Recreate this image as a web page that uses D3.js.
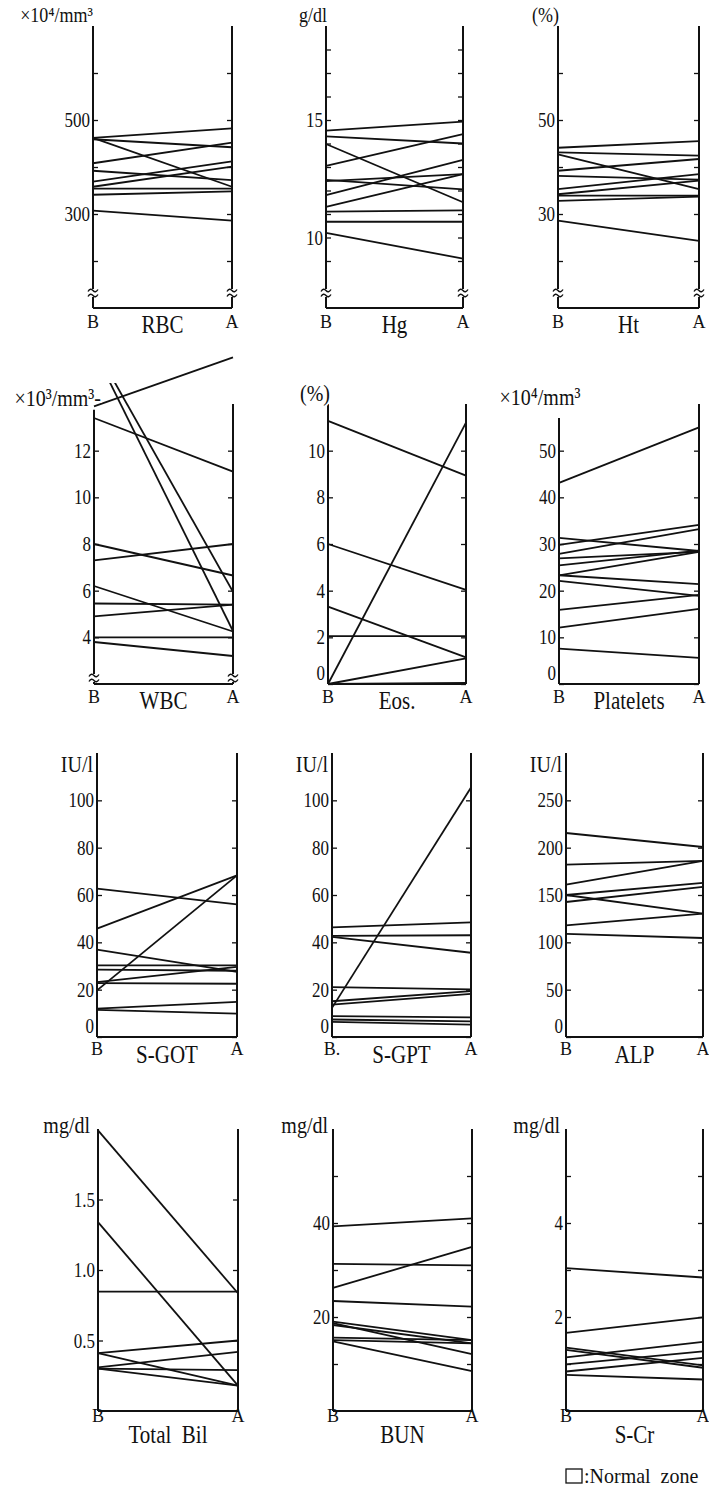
<!DOCTYPE html>
<html>
<head>
<meta charset="utf-8">
<script src="https://cdn.jsdelivr.net/npm/d3@7"></script>
<style>
  body { margin: 0; background: #fff; }
  text { font-family: "Liberation Serif", "DejaVu Serif", serif; fill: #111; }
</style>
</head>
<body>
<svg id="chart" width="709" height="1487"></svg>
<script>
// B = before, A = after, one entry per patient line
var rbcB = [462, 462, 459, 408, 392, 369, 358, 354, 341, 307];
var rbcA = [482, 358, 442, 452, 372, 412, 401, 354, 348, 286];
var hgB = [14.55, 14.3, 13.98, 13.05, 12.45, 12.4, 11.8, 11.3, 11.1, 10.67, 10.2];
var hgA = [14.93, 14.0, 11.5, 14.4, 12.05, 12.7, 13.3, 12.7, 11.15, 10.67, 9.1];
var htB = [44.1, 43.1, 42.7, 39.2, 38.1, 35.3, 34.2, 33.9, 32.8, 28.6];
var htA = [45.5, 42.4, 35.3, 41.7, 37.3, 38.5, 37.1, 33.9, 33.7, 24.3];

var wbcB = [13.4, 8.0, 7.3, 6.2, 5.45, 4.9, 4.0, 3.8, 16.3, 16.5, 13.9];
var wbcA = [11.1, 6.65, 8.0, 4.25, 5.4, 5.4, 4.0, 3.2, 4.27, 5.95, 16.0];
var eosB = [11.28, 6.0, 3.32, 2.05, 0, 0, 0];
var eosA = [8.93, 4.03, 1.14, 2.05, 1.1, 11.2, 0.05];
var pltB = [43.1, 31.3, 29.8, 27.9, 26.9, 25.4, 23.3, 23.3, 22.1, 15.9, 12.1, 7.6];
var pltA = [55.0, 28.5, 34.1, 33.2, 28.3, 28.6, 28.3, 21.4, 18.9, 19.1, 16.1, 5.6];

var gotB = [62.7, 45.8, 19.7, 36.9, 30.3, 28.5, 23.2, 22.8, 12.0, 11.5];
var gotA = [56.0, 68.3, 68.3, 27.5, 30.3, 28.0, 29.6, 22.5, 14.8, 9.9];
var gptB = [12.3, 46.3, 42.7, 42.3, 21.1, 15.1, 13.7, 8.8, 7.4, 6.4];
var gptA = [105.4, 48.4, 43.0, 35.6, 20.1, 19.4, 18.2, 8.3, 6.6, 5.2];
var alpB = [215.5, 182, 161, 150, 150, 142.6, 118, 109];
var alpA = [200.7, 186, 186, 162.7, 130.3, 158.5, 130.3, 104.6];

var bilB = [1.99, 1.34, 0.847, 0.41, 0.41, 0.31, 0.30, 0.30];
var bilA = [0.835, 0.18, 0.847, 0.5, 0.18, 0.42, 0.29, 0.18];
var bunB = [39.3, 31.3, 26.2, 23.4, 19.0, 18.7, 18.3, 15.6, 15.1, 14.8];
var bunA = [41.0, 31.0, 34.9, 22.2, 15.1, 12.1, 14.4, 15.1, 14.4, 8.5];
var crB = [3.04, 1.66, 1.35, 1.30, 1.14, 0.99, 0.84, 0.77];
var crA = [2.84, 1.99, 0.97, 0.92, 1.47, 1.27, 1.13, 0.67];

// axis ticks and which of them carry a label
var rbcTicks = [200, 300, 400, 500, 600], rbcLabels = [300, 500];
var hgTicks = [9, 10, 11, 12, 13, 14, 15, 16, 17, 18], hgLabels = [10, 15];
var htTicks = [20, 30, 40, 50, 60], htLabels = [30, 50];
var wbcTicks = [4, 6, 8, 10, 12];
var eosTicks = [0, 2, 4, 6, 8, 10];
var pltTicks = [0, 10, 20, 30, 40, 50];
var gotTicks = [0, 20, 40, 60, 80, 100];
var alpTicks = [0, 50, 100, 150, 200, 250];
var bilTicks = [0.5, 1.0, 1.5];
var bunTicks = [10, 20, 30, 40, 50], bunLabels = [20, 40];
var crTicks = [1, 2, 3, 4, 5], crLabels = [2, 4];

var panels = [
  {name: "RBC", unit: "×10⁴/mm³", b: rbcB, a: rbcA, domain: [100, 700], ticks: rbcTicks, labels: rbcLabels, brk: true},
  {name: "Hg", unit: "g/dl", b: hgB, a: hgA, domain: [7, 19], ticks: hgTicks, labels: hgLabels, brk: true},
  {name: "Ht", unit: "(%)", b: htB, a: htA, domain: [10, 70], ticks: htTicks, labels: htLabels, brk: true},
  {name: "WBC", unit: "×10³/mm³-", b: wbcB, a: wbcA, domain: [2, 14], ticks: wbcTicks, labels: wbcTicks, brk: true, clipTop: 14.9, topL: 13.75},
  {name: "Eos.", unit: "(%)", b: eosB, a: eosA, domain: [0, 12], ticks: eosTicks, labels: eosTicks},
  {name: "Platelets", unit: "×10⁴/mm³", b: pltB, a: pltA, domain: [0, 60], ticks: pltTicks, labels: pltTicks, topL: 57},
  {name: "S-GOT", unit: "IU/l", b: gotB, a: gotA, domain: [0, 120], ticks: gotTicks, labels: gotTicks},
  {name: "S-GPT", unit: "IU/l", b: gptB, a: gptA, domain: [0, 120], ticks: gotTicks, labels: gotTicks, bName: "B."},
  {name: "ALP", unit: "IU/l", b: alpB, a: alpA, domain: [0, 300], ticks: alpTicks, labels: alpTicks},
  {name: "Total  Bil", unit: "mg/dl", b: bilB, a: bilA, domain: [0, 2], ticks: bilTicks, labels: bilTicks, fmt: d3.format(".1f")},
  {name: "BUN", unit: "mg/dl", b: bunB, a: bunA, domain: [0, 60], ticks: bunTicks, labels: bunLabels},
  {name: "S-Cr", unit: "mg/dl", b: crB, a: crA, domain: [0, 6], ticks: crTicks, labels: crLabels}
];

// layout of the 4 x 3 grid
var rows = [
  {top: 26, bottom: 308, xL: [93, 326, 558], xR: [232, 463, 699], offB: 20, offName: 25, brkY: 15},
  {top: 404, bottom: 684, xL: [94, 328, 559], xR: [233, 466, 699], offB: 19, offName: 25, brkY: 6},
  {top: 753, bottom: 1037, xL: [97, 332, 566], xR: [237, 471, 703], offB: 18, offName: 26},
  {top: 1129, bottom: 1411, xL: [98, 333, 566], xR: [238, 472, 703], offB: 11, offName: 32}
];
// unit label placement per panel: [dx from left axis, dy from row top, anchor]
var unitPos = [
  [0, -4, "end"], [1, -4, "end"], [1, -4, "end"],
  [7, 2, "end"], [2, -3, "end"], [-19, 1, "middle"],
  [-4, 19, "end"], [-4, 19, "end"], [-4, 19, "end"],
  [-8, 4, "end"], [-5, 4, "end"], [-6, 4, "end"]
];

var svg = d3.select("#chart");
var ink = "#111";

function label(g, x, y, str, size, anchor, sy) {
  return g.append("text")
    .attr("transform", "translate(" + x + "," + y + ") scale(1," + (sy || 1.2) + ")")
    .attr("text-anchor", anchor || "middle")
    .attr("font-size", size)
    .text(str);
}

function breakMark(g, x, y) {
  g.append("rect").attr("x", x - 3).attr("y", y - 4).attr("width", 6).attr("height", 8).attr("fill", "#fff");
  [-2.5, 2.5].forEach(function(o) {
    g.append("path")
      .attr("d", "M" + (x - 5) + "," + (y + o + 1) + " q2.5,-4 5,-1 t5,-1")
      .attr("fill", "none").attr("stroke", ink).attr("stroke-width", 1.4);
  });
}

panels.forEach(function(p, i) {
  var row = rows[Math.floor(i / 3)], col = i % 3;
  var xL = row.xL[col], xR = row.xR[col];
  var g = svg.append("g");

  var y = d3.scaleLinear().domain(p.domain).range([row.bottom, row.top]);
  var x = d3.scalePoint().domain(["B", "A"]).range([xL, xR]);
  var fmt = p.fmt || d3.format("d");

  // clip for lines that start above the printed axis
  var clipId = "clip" + i;
  if (p.clipTop != null) {
    svg.append("clipPath").attr("id", clipId).append("rect")
      .attr("x", xL).attr("y", y(p.clipTop))
      .attr("width", xR - xL).attr("height", row.bottom - y(p.clipTop));
  }

  g.selectAll("line.pt")
    .data(d3.zip(p.b, p.a))
    .enter().append("line")
    .attr("class", "pt")
    .attr("x1", x("B")).attr("y1", function(d) { return y(d[0]); })
    .attr("x2", x("A")).attr("y2", function(d) { return y(d[1]); })
    .attr("stroke", ink).attr("stroke-width", 1.8)
    .attr("clip-path", function(d) { return (p.clipTop != null && d[0] > p.domain[1]) ? "url(#" + clipId + ")" : null; });

  // ticks: inward marks on both axes, labels on the left
  var left = d3.axisLeft(y).tickValues(p.ticks).tickSizeInner(-5).tickSizeOuter(0).tickPadding(3)
    .tickFormat(function(v) { return p.labels.indexOf(v) >= 0 ? fmt(v) : ""; });
  var gl = g.append("g").attr("transform", "translate(" + xL + ",0)").call(left);
  gl.select(".domain").remove();
  gl.selectAll("line").attr("stroke", ink).attr("stroke-width", 1.3);
  gl.selectAll("text")
    .attr("font-family", "Liberation Serif").attr("font-size", 17).attr("fill", ink)
    .attr("y", function(v) { return v === p.domain[0] ? -9 : 0; })
    .attr("transform", "scale(1,1.2)");

  var right = d3.axisRight(y).tickValues(p.ticks).tickSizeInner(-5).tickSizeOuter(0).tickFormat("");
  var gr = g.append("g").attr("transform", "translate(" + xR + ",0)").call(right);
  gr.select(".domain").remove();
  gr.selectAll("line").attr("stroke", ink).attr("stroke-width", 1.3);

  // axis lines and baseline
  var topL = p.topL != null ? y(p.topL) : row.top;
  g.append("line").attr("x1", xL).attr("x2", xL).attr("y1", topL).attr("y2", row.bottom)
    .attr("stroke", ink).attr("stroke-width", 2);
  g.append("line").attr("x1", xR).attr("x2", xR).attr("y1", row.top).attr("y2", row.bottom)
    .attr("stroke", ink).attr("stroke-width", 2);
  g.append("line").attr("x1", xL).attr("x2", xR).attr("y1", row.bottom).attr("y2", row.bottom)
    .attr("stroke", ink).attr("stroke-width", 1.8);

  if (p.brk) {
    breakMark(g, xL, row.bottom - row.brkY);
    breakMark(g, xR, row.bottom - row.brkY);
  }

  label(g, x("B"), row.bottom + row.offB, p.bName || "B", 18, "middle", 1.1);
  label(g, x("A"), row.bottom + row.offB, "A", 18, "middle", 1.1);
  label(g, (xL + xR) / 2, row.bottom + row.offName, p.name, 21).style("white-space", "pre");

  var u = unitPos[i];
  label(g, xL + u[0], row.top + u[1], p.unit, u[1] < 0 && i < 3 ? 18 : 20, u[2])
    .attr("stroke", "#fff").attr("stroke-width", 3).attr("paint-order", "stroke");
});

// legend
var lg = svg.append("g");
lg.append("rect").attr("x", 566).attr("y", 1469).attr("width", 16).attr("height", 14)
  .attr("fill", "none").attr("stroke", ink).attr("stroke-width", 1.3);
label(lg, 584, 1483, ":Normal  zone", 20, "start", 1.1).style("white-space", "pre");
</script>
</body>
</html>
